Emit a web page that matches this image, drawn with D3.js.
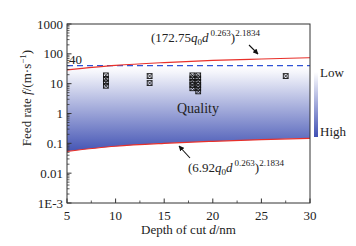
<!DOCTYPE html>
<html><head><meta charset="utf-8">
<script src="https://cdn.jsdelivr.net/npm/d3@7"></script>
<style>body{margin:0;background:#fff}svg{display:block}text{font-family:"Liberation Serif","Times New Roman",serif;fill:#222}</style>
</head><body>
<script>
const depths = [5, 10, 15, 20, 25, 30];
const upperBound = [29, 41, 51, 60, 67, 74];
const lowerBound = [0.054, 0.080, 0.100, 0.117, 0.133, 0.147];
const limitValue = 40;
const markerDepth = [9, 9, 9, 9, 13.5, 13.5, 17.9, 17.9, 17.9, 17.9, 17.9, 18.5, 18.5, 18.5, 18.5, 18.5, 18.5, 27.5];
const markerFeed = [19, 14.5, 11, 8.5, 18, 10.5, 19, 15, 11.5, 9, 7, 19, 15, 11.5, 9, 7, 5.5, 18];
const xTicks = [5, 10, 15, 20, 25, 30];
const yTicks = [1e-3, 0.01, 0.1, 1, 10, 100, 1000];
const yTickLabels = ["1E-3", "0.01", "0.1", "1", "10", "100", "1000"];

const W = 356, H = 246;
const m = {l: 67, r: 310, t: 24, b: 203};
const svg = d3.select("body").append("svg").attr("width", W).attr("height", H);
const x = d3.scaleLinear().domain([5, 30]).range([m.l, m.r]);
const y = d3.scaleLog().domain([1e-3, 1000]).range([m.b, m.t]);

const defs = svg.append("defs");
const g1 = defs.append("linearGradient").attr("id", "fillg").attr("gradientUnits", "userSpaceOnUse")
  .attr("x1", 0).attr("x2", 0).attr("y1", y(40)).attr("y2", y(0.06));
g1.append("stop").attr("offset", 0).attr("stop-color", "#ffffff");
g1.append("stop").attr("offset", 0.08).attr("stop-color", "#f4f5fb");
g1.append("stop").attr("offset", 1).attr("stop-color", "#4858b6");
const g2 = defs.append("linearGradient").attr("id", "barg").attr("x1", 0).attr("x2", 0).attr("y1", 0).attr("y2", 1);
g2.append("stop").attr("offset", 0).attr("stop-color", "#ffffff");
g2.append("stop").attr("offset", 1).attr("stop-color", "#4050b4");
defs.append("marker").attr("id", "arr").attr("viewBox", "0 0 10 10").attr("refX", 9).attr("refY", 5)
  .attr("markerWidth", 5).attr("markerHeight", 5).attr("orient", "auto")
  .append("path").attr("d", "M0,0L10,5L0,10z").attr("fill", "#111");

const pts = depths.map((d, i) => ({d, up: upperBound[i], lo: lowerBound[i]}));
svg.append("path").datum(pts)
  .attr("d", d3.area().x(p => x(p.d)).y0(p => y(p.lo)).y1(() => y(limitValue)).curve(d3.curveMonotoneX))
  .attr("fill", "url(#fillg)");

svg.append("line").attr("x1", x(5)).attr("x2", x(30)).attr("y1", y(limitValue)).attr("y2", y(limitValue))
  .attr("stroke", "#2f52d6").attr("stroke-width", 1.2).attr("stroke-dasharray", "6,4");

const ln = key => d3.line().x(p => x(p.d)).y(p => y(p[key])).curve(d3.curveMonotoneX);
svg.append("path").datum(pts).attr("d", ln("up")).attr("fill", "none").attr("stroke", "#e8302a").attr("stroke-width", 1.2);
svg.append("path").datum(pts).attr("d", ln("lo")).attr("fill", "none").attr("stroke", "#e8302a").attr("stroke-width", 1.2);

// markers
const mk = svg.append("g");
markerDepth.forEach((d, i) => {
  const cx = x(d), cy = y(markerFeed[i]), s = 2.4;
  const gg = mk.append("g");
  gg.append("rect").attr("x", cx - s).attr("y", cy - s).attr("width", 2 * s).attr("height", 2 * s)
    .attr("fill", "none").attr("stroke", "#111").attr("stroke-width", 0.9);
  gg.append("path").attr("d", `M${cx - s},${cy - s}L${cx + s},${cy + s}M${cx + s},${cy - s}L${cx - s},${cy + s}`)
    .attr("stroke", "#111").attr("stroke-width", 0.8);
});

// frame
svg.append("rect").attr("x", m.l).attr("y", m.t).attr("width", m.r - m.l).attr("height", m.b - m.t)
  .attr("fill", "none").attr("stroke", "#333").attr("stroke-width", 1);

// y axis ticks
const yMinor = [];
for (let e = -3; e < 3; e++) for (let k = 2; k <= 9; k++) yMinor.push(k * Math.pow(10, e));
svg.append("g").selectAll("line").data(yMinor).join("line")
  .attr("x1", m.l).attr("x2", m.l + 2.5).attr("y1", d => y(d)).attr("y2", d => y(d)).attr("stroke", "#333").attr("stroke-width", 0.8);
svg.append("g").selectAll("line").data(yTicks).join("line")
  .attr("x1", m.l).attr("x2", m.l + 4.5).attr("y1", d => y(d)).attr("y2", d => y(d)).attr("stroke", "#333");
svg.append("g").selectAll("text").data(yTicks).join("text")
  .attr("x", m.l - 4).attr("y", d => y(d) + 4.5).attr("text-anchor", "end").attr("font-size", 13)
  .text((d, i) => yTickLabels[i]);

// x axis ticks
const xMinor = [7.5, 12.5, 17.5, 22.5, 27.5];
svg.append("g").selectAll("line").data(xMinor).join("line")
  .attr("x1", d => x(d)).attr("x2", d => x(d)).attr("y1", m.b).attr("y2", m.b - 2.5).attr("stroke", "#333").attr("stroke-width", 0.8);
svg.append("g").selectAll("line").data(xTicks).join("line")
  .attr("x1", d => x(d)).attr("x2", d => x(d)).attr("y1", m.b).attr("y2", m.b - 4.5).attr("stroke", "#333");
svg.append("g").selectAll("text").data(xTicks).join("text")
  .attr("x", d => x(d)).attr("y", m.b + 17).attr("text-anchor", "middle").attr("font-size", 13).text(d => d);

// axis titles
const xl = svg.append("text").attr("x", (m.l + m.r) / 2).attr("y", 234).attr("text-anchor", "middle").attr("font-size", 13);
xl.append("tspan").text("Depth of cut ");
xl.append("tspan").attr("font-style", "italic").text("d");
xl.append("tspan").text("/nm");
const yl = svg.append("text").attr("transform", "translate(31,98) rotate(-90)").attr("text-anchor", "middle").attr("font-size", 13);
yl.append("tspan").text("Feed rate ");
yl.append("tspan").attr("font-style", "italic").text("f");
yl.append("tspan").text("/(m·s");
yl.append("tspan").attr("font-size", 9).attr("dy", -5).text("−1");
yl.append("tspan").attr("dy", 5).text(")");

// 40 label
svg.append("text").attr("x", 69).attr("y", 64).attr("font-size", 13).text("40");

// Quality
svg.append("text").attr("x", 198).attr("y", 113).attr("text-anchor", "middle").attr("font-size", 14).text("Quality");

// formula annotations
function formula(x0, y0, coef) {
  const t = svg.append("text").attr("x", x0).attr("y", y0).attr("font-size", 13);
  t.append("tspan").text("(" + coef);
  t.append("tspan").attr("font-style", "italic").text("q");
  t.append("tspan").attr("font-size", 9).attr("dy", 3).text("0");
  t.append("tspan").attr("font-style", "italic").attr("dy", -3).text("d");
  t.append("tspan").attr("font-size", 9).attr("dy", -6).attr("dx", 2).text("0.263");
  t.append("tspan").attr("dy", 6).text(")");
  t.append("tspan").attr("font-size", 9).attr("dy", -6).text("2.1834");
}
formula(151, 42, "172.75");
formula(188, 172, "6.92");
svg.append("line").attr("x1", 249).attr("y1", 45).attr("x2", 258).attr("y2", 54)
  .attr("stroke", "#111").attr("stroke-width", 1.1).attr("marker-end", "url(#arr)");
svg.append("line").attr("x1", 190).attr("y1", 158).attr("x2", 179).attr("y2", 146)
  .attr("stroke", "#111").attr("stroke-width", 1.1).attr("marker-end", "url(#arr)");

// colour bar
svg.append("rect").attr("x", 314).attr("y", 72).attr("width", 4).attr("height", 65).attr("fill", "url(#barg)");
svg.append("text").attr("x", 320).attr("y", 77).attr("font-size", 13).text("Low");
svg.append("text").attr("x", 320).attr("y", 136).attr("font-size", 13).text("High");
</script>
</body></html>
